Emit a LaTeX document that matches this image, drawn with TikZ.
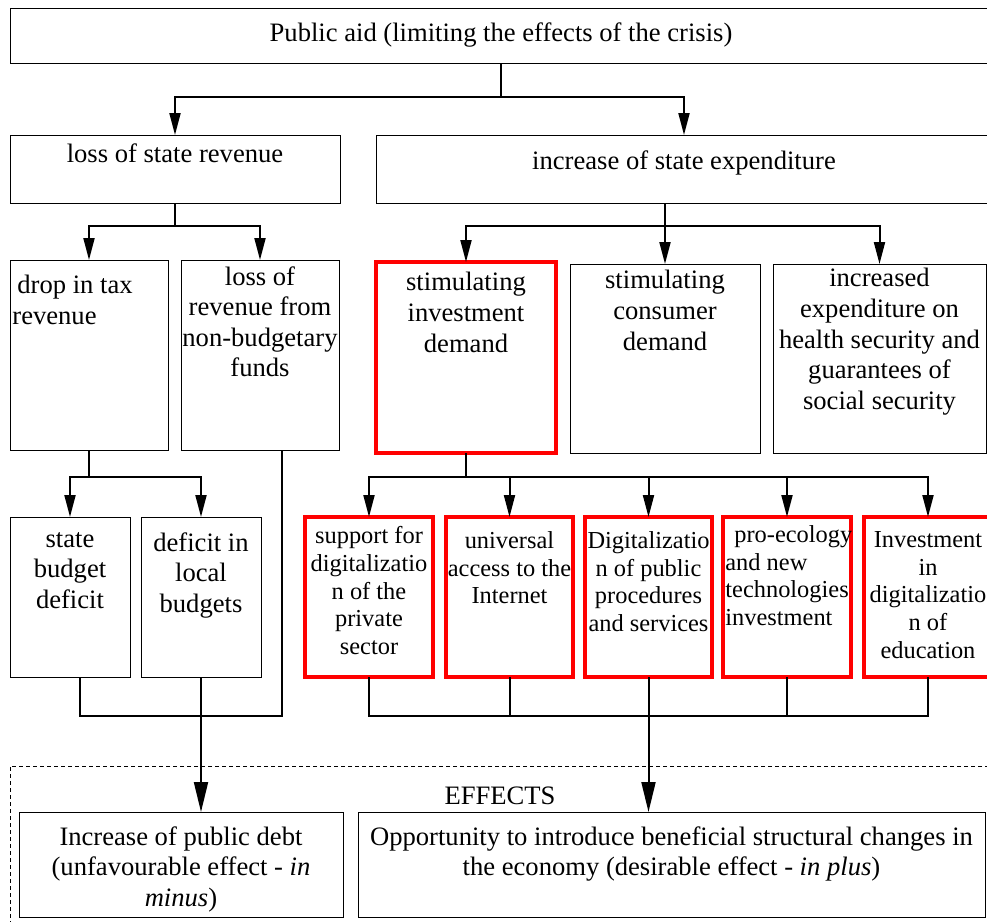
\documentclass[tikz,border=0pt]{standalone}
\usepackage{fontspec}
\setmainfont{Liberation Serif}
\usetikzlibrary{arrows.meta,positioning}
\definecolor{boxred}{RGB}{255,0,0}

\begin{document}
\begin{tikzpicture}[x=0.5pt, y=-0.5pt,
  box/.style={draw, line width=0.5pt, inner sep=0pt, outer sep=0pt},
  redbox/.style={draw=boxred, line width=1.8pt, inner sep=0pt, outer sep=0pt},
  txt/.style={inner sep=0pt, align=center, font=\fontsize{13.3}{15.3}\selectfont},
  smalltxt/.style={inner sep=0pt, align=center, font=\fontsize{12.2}{13.9}\selectfont},
  line/.style={line width=1pt},
  arr/.style={line width=1pt, -{Triangle[length=11pt, width=5.5pt]}},
  bigarr/.style={line width=1pt, -{Triangle[length=15pt, width=7pt]}}]
\useasboundingbox (0,0) rectangle (987,922);
% Effects frame
\node[box, dash pattern=on 2pt off 1.5pt, minimum width=492.5pt, minimum height=82pt] (eff) at (502.5,848) {};
\node[txt] (tEff) at (500,796) {EFFECTS};
% Top level
\node[box, minimum width=491pt, minimum height=27.5pt] (pub) at (501,35.5) {};
\node[txt] (tpub) at (501,35.5) {Public aid (limiting the effects of the crisis)};
\node[box, minimum width=165pt, minimum height=34pt] (loss) at (175,169) {};
\node[txt, below=4pt of loss.north] (tloss) {loss of state revenue};
\node[box, minimum width=308pt, minimum height=34pt] (incr) at (684,169) {};
\node[txt, below=7.5pt of incr.north] (tincr) {increase of state expenditure};
% Revenue side
\node[box, minimum width=79pt, minimum height=95pt] (drop) at (89,355) {};
\node[txt, align=left, below right=7.5pt and 1pt of drop.north west] (tdrop) {\hspace*{2.5pt}drop in tax\\revenue};
\node[box, minimum width=79pt, minimum height=95pt] (frev) at (260,355) {};
\node[txt, below=3pt of frev.north] (tfrev) {loss of\\revenue from\\non-budgetary\\funds};
\node[box, minimum width=60pt, minimum height=80pt] (state) at (70,597) {};
\node[txt, below=7.5pt of state.north] (tstate) {state\\budget\\deficit};
\node[box, minimum width=60pt, minimum height=80pt] (local) at (201,597) {};
\node[txt, below=7.5pt of local.north] (tlocal) {deficit in\\local\\budgets};
% Expenditure side
\node[redbox, minimum width=90pt, minimum height=95.5pt] (inv) at (466,357.5) {};
\node[txt, below=5pt of inv.north] (tinv) {stimulating\\investment\\demand};
\node[box, minimum width=95pt, minimum height=94.5pt] (cons) at (665,358.5) {};
\node[txt, below=3pt of cons.north] (tcons) {stimulating\\consumer\\demand};
\node[box, minimum width=106.5pt, minimum height=94.5pt] (hlth) at (879.5,358.5) {};
\node[txt, below=2pt of hlth.north] (thlth) {increased\\expenditure on\\health security and\\guarantees of\\social security};
% Investment measures
\node[redbox, minimum width=64pt, minimum height=80pt] (sup) at (369,597) {};
\node[smalltxt, below=4.5pt of sup.north] (tsup) {support for\\digitalizatio\\n of the\\private\\sector};
\node[redbox, minimum width=63.5pt, minimum height=80pt] (web) at (509.5,597) {};
\node[smalltxt, below=7pt of web.north] (tweb) {universal\\access to the\\Internet};
\node[redbox, minimum width=63.5pt, minimum height=80pt] (proc) at (648.5,597) {};
\node[smalltxt, below=7pt of proc.north] (tproc) {Digitalizatio\\n of public\\procedures\\and services};
\node[redbox, minimum width=64pt, minimum height=80pt] (eco) at (787,597) {};
\node[smalltxt, align=left, below right=4pt and 1pt of eco.north west] (teco) {\hspace*{4.5pt}pro-ecology\\and new\\technologies\\investment};
\node[redbox, minimum width=64pt, minimum height=80pt] (edu) at (928,597) {};
\node[smalltxt, below=7pt of edu.north] (tedu) {Investment\\in\\digitalizatio\\n of\\education};
% Effects
\node[box, minimum width=162pt, minimum height=52.5pt] (debt) at (181,864.5) {};
\node[txt, below=7pt of debt.north] (tdebt) {Increase of public debt\\(unfavourable effect - \textit{in}\\\textit{minus})};
\node[box, minimum width=313.5pt, minimum height=52.5pt] (opp) at (671.5,864.5) {};
\node[txt, below=7pt of opp.north] (topp) {Opportunity to introduce beneficial structural changes in\\the economy (desirable effect - \textit{in plus})};
% Arrows
\draw[arr] (pub.south) -- ++(0,34) -| (loss.north);
\draw[arr] (pub.south) -- ++(0,34) -| (incr.north);
\draw[arr] (loss.south) -- ++(0,23) -| (drop.north);
\draw[arr] (loss.south) -- ++(0,23) -| (frev.north);
\draw[arr] (incr.south -| cons.north) -- ++(0,23) -| (inv.north);
\draw[arr] (incr.south -| cons.north) -- (cons.north);
\draw[arr] (incr.south -| cons.north) -- ++(0,23) -| (hlth.north);
\draw[arr] (drop.south) -- ++(0,27) -| (state.north);
\draw[arr] (drop.south) -- ++(0,27) -| (local.north);
\foreach \m in {sup,web,proc,eco,edu}
  \draw[arr] (inv.south) -- ++(0,24) -| (\m.north);
% Lines into effects
\draw[line] ([xshift=5pt]state.south) -- ++(0,39) -| ([xshift=11pt]frev.south);
\draw[bigarr] (local.south) -- (local.south |- debt.north);
\draw[line] (sup.south) -- ++(0,39) -| (edu.south);
\foreach \m in {web,eco}
  \draw[line] (\m.south) -- ++(0,39);
\draw[bigarr] (proc.south) -- (proc.south |- opp.north);
\end{tikzpicture}
\end{document}
